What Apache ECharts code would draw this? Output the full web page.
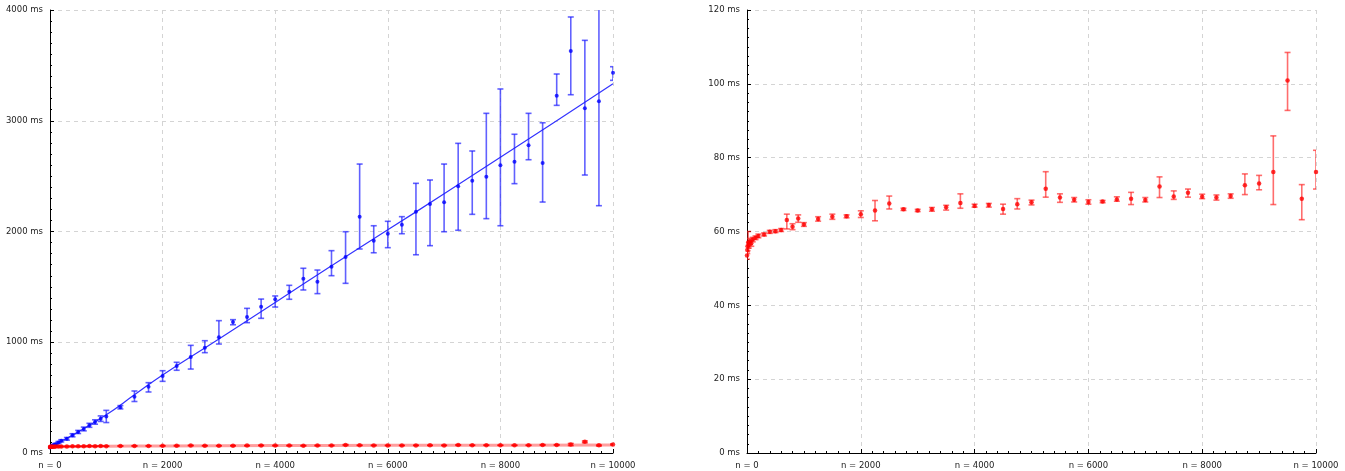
<!DOCTYPE html>
<html>
<head>
<meta charset="utf-8">
<script src="https://cdn.jsdelivr.net/npm/echarts@6/dist/echarts.min.js"></script>
<style>
html,body{margin:0;padding:0;background:#fff;}
#chart{width:1345px;height:471px;}
</style>
</head>
<body>
<div id="chart"></div>
<script>
// ---- data ----
var nValues = [0,5,10,20,30,50,75,100,150,200,300,400,500,600,700,800,900,1000,
  1250,1500,1750,2000,2250,2500,2750,3000,3250,3500,3750,4000,4250,4500,4750,5000,
  5250,5500,5750,6000,6250,6500,6750,7000,7250,7500,7750,8000,8250,8500,8750,9000,
  9250,9500,9750,10000];

// blue series (ms): mean, low, high
var blueMean = [50,52,55,58,62,66,72,80,95,110,128,160,190,217,250,280,310,330,
  413,508,599,695,786,867,951,1045,1183,1228,1321,1388,1457,1574,1547,1682,
  1770,2134,1917,1980,2061,2179,2248,2263,2408,2459,2495,2598,2630,2778,2618,3226,
  3630,3112,3175,3434];
var blueLow = [44,46,48,52,55,59,64,72,86,100,116,146,176,200,232,260,285,275,
  398,465,551,647,747,758,906,984,1158,1177,1216,1318,1388,1472,1439,1601,
  1532,1842,1808,1854,1980,1790,1872,1998,2011,2155,2116,2052,2432,2648,2266,3139,
  3235,2510,2233,3365];
var blueHigh = [56,58,62,64,69,73,80,88,104,120,140,174,204,234,268,300,335,385,
  428,560,635,743,819,972,1014,1195,1204,1306,1390,1418,1514,1668,1652,1827,
  1998,2609,2052,2092,2134,2435,2465,2609,2796,2727,3067,3287,2878,3067,2982,3422,
  3937,3726,4050,3488];

// red series (ms): mean, low, high
var redMean = [53.5,55.0,56.0,57.0,56.3,57.3,56.8,57.8,58.3,58.8,59.2,59.9,60.1,60.4,63.1,61.3,63.5,61.9,
  63.4,64.0,64.1,64.7,65.7,67.6,66.0,65.7,66.0,66.6,67.7,66.9,67.2,66.1,67.4,67.9,
  71.6,69.2,68.6,68.0,68.1,68.7,68.9,68.5,72.2,69.5,70.5,69.4,69.2,69.6,72.5,73.0,
  76.1,100.9,68.9,76.1];
var redLow = [52.5,54.0,54.8,55.5,55.5,56.5,56.0,57.2,57.8,58.3,58.8,59.5,59.7,60.0,60.7,60.5,62.5,61.4,
  62.8,63.3,63.7,63.8,62.9,66.1,65.7,65.4,65.5,65.8,66.3,66.6,66.6,64.7,66.1,67.2,
  69.3,67.9,68.0,67.4,67.8,68.2,67.3,68.0,69.2,68.7,69.3,68.9,68.5,69.0,70.0,71.3,
  67.3,92.8,63.2,71.5];
var redHigh = [54.5,56.0,57.2,60.0,57.1,58.1,57.6,58.4,58.8,59.3,59.6,60.3,60.5,60.8,64.7,62.1,64.5,62.4,
  64.0,64.7,64.5,65.6,68.4,69.6,66.3,66.0,66.5,67.1,70.2,67.4,67.6,67.4,68.9,68.5,
  76.2,70.2,69.2,68.6,68.4,69.4,70.6,69.2,74.8,71.0,71.5,70.1,69.9,70.2,75.6,75.2,
  85.9,108.5,72.7,82.0];

// fitted curves
var blueFitN  = [0,250,500,1000,1500,2000,3000,4000,5000,6000,7000,8000,9000,10000];
var blueFitMs = [58,120,190,345,525,705,1030,1360,1690,2015,2340,2670,3000,3333];
var redFitN  = [0,1000,2000,4000,6000,8000,10000];
var redFitMs = [56,62,64,67,69,71,73];

// axis ticks
var xTicks = [0,2000,4000,6000,8000,10000];
var leftYTicks = [0,1000,2000,3000,4000];
var rightYTicks = [0,20,40,60,80,100,120];

// ---- build ----
function zip3(a,b,c){ var r=[]; for(var i=0;i<a.length;i++) r.push([a[i],b[i],c[i]]); return r; }
function zip2(a,b){ var r=[]; for(var i=0;i<a.length;i++) r.push([a[i],b[i]]); return r; }

function errRender(color){
  return function(params, api){
    var x = api.value(0), lo = api.value(1), hi = api.value(2);
    var p1 = api.coord([x,hi]), p2 = api.coord([x,lo]);
    var w = 3;
    var st = {stroke:color, lineWidth:1.6, fill:null};
    return {type:'group', children:[
      {type:'line', shape:{x1:p1[0],y1:p1[1],x2:p2[0],y2:p2[1]}, style:st},
      {type:'line', shape:{x1:p1[0]-w,y1:p1[1],x2:p1[0]+w,y2:p1[1]}, style:st},
      {type:'line', shape:{x1:p2[0]-w,y1:p2[1],x2:p2[0]+w,y2:p2[1]}, style:st}
    ]};
  };
}

var labelFont = {fontFamily:'DejaVu Sans', fontSize:8.5, color:'#222'};
var splitLine = {show:true, lineStyle:{color:'#d4d4d4', type:[4,4], width:1}};

function xAxisCfg(idx){
  return {
    type:'value', gridIndex:idx, min:xTicks[0], max:xTicks[xTicks.length-1],
    interval:xTicks[1]-xTicks[0],
    axisLine:{show:true, onZero:false, lineStyle:{color:'#000', width:1}},
    axisTick:{show:true, inside:true, length:4, lineStyle:{color:'#000'}},
    minorTick:{show:true, splitNumber:10, length:2, lineStyle:{color:'#000'}},
    axisLabel:Object.assign({margin:8, formatter:function(v){return 'n = ' + v;}}, labelFont),
    splitLine:splitLine
  };
}
function yAxisCfg(idx, ticks, minorSplit){
  return {
    type:'value', gridIndex:idx, min:ticks[0], max:ticks[ticks.length-1],
    interval:ticks[1]-ticks[0],
    axisLine:{show:true, onZero:false, lineStyle:{color:'#000', width:1}},
    axisTick:{show:true, inside:true, length:4, lineStyle:{color:'#000'}},
    minorTick:{show:true, splitNumber:minorSplit, length:2, lineStyle:{color:'#000'}},
    axisLabel:Object.assign({margin:7, formatter:function(v){return v + ' ms';}}, labelFont),
    splitLine:splitLine
  };
}

var chart = echarts.init(document.getElementById('chart'), null, {renderer:'canvas'});
chart.setOption({
  animation:false,
  backgroundColor:'#fff',
  grid:[
    {left:50, top:10, width:563, height:443, containLabel:false},
    {left:747, top:10, width:569, height:443, containLabel:false}
  ],
  xAxis:[xAxisCfg(0), xAxisCfg(1)],
  yAxis:[yAxisCfg(0, leftYTicks, 10), yAxisCfg(1, rightYTicks, 8)],
  series:[
    {type:'line', xAxisIndex:0, yAxisIndex:0, data:zip2(redFitN, redFitMs), smooth:true,
      showSymbol:false, lineStyle:{color:'rgba(255,40,40,0.45)', width:3}, z:2},
    {type:'line', xAxisIndex:0, yAxisIndex:0, data:zip2(blueFitN, blueFitMs), smooth:true,
      showSymbol:false, lineStyle:{color:'#3333ff', width:1.2}, z:2},
    {type:'custom', xAxisIndex:0, yAxisIndex:0, data:zip3(nValues, blueLow, blueHigh),
      renderItem:errRender('rgba(30,30,255,0.7)'), clip:true, z:3},
    {type:'scatter', xAxisIndex:0, yAxisIndex:0, data:zip2(nValues, blueMean),
      symbol:'circle', symbolSize:4, itemStyle:{color:'#0000ff'}, clip:true, z:4},
    {type:'custom', xAxisIndex:0, yAxisIndex:0, data:zip3(nValues, redLow, redHigh),
      renderItem:errRender('rgba(255,0,0,0.7)'), clip:true, z:3},
    {type:'scatter', xAxisIndex:0, yAxisIndex:0, data:zip2(nValues, redMean),
      symbol:'circle', symbolSize:4.5, itemStyle:{color:'#ff0000'}, clip:true, z:4},
    {type:'custom', xAxisIndex:1, yAxisIndex:1, data:zip3(nValues, redLow, redHigh),
      renderItem:errRender('rgba(255,30,30,0.65)'), clip:true, z:3},
    {type:'scatter', xAxisIndex:1, yAxisIndex:1, data:zip2(nValues, redMean),
      symbol:'circle', symbolSize:4.5, itemStyle:{color:'#ff0000'}, clip:true, z:4}
  ]
});
</script>
</body>
</html>
